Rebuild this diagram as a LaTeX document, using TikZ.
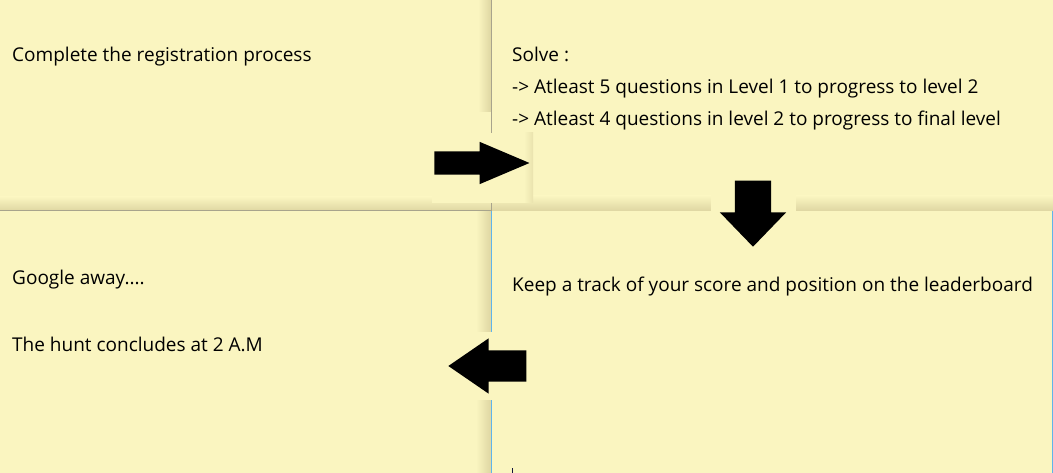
\documentclass[tikz,border=0pt]{standalone}
\usepackage{fontspec}
\setmainfont{Open Sans}
\usetikzlibrary{shapes.arrows,positioning}
\definecolor{notebg}{RGB}{250,245,192}
\definecolor{noteshade}{RGB}{222,214,162}
\definecolor{noteline}{RGB}{168,164,140}
\definecolor{noteblue}{RGB}{95,180,235}
\definecolor{caret}{RGB}{20,20,60}

\tikzset{
  notetext/.style={anchor=base west, inner sep=0pt, font=\fontsize{19}{22}\selectfont},
  blockarrow/.style={single arrow, fill=black, inner sep=0pt, single arrow head indent=0pt, anchor=tip},
}

\begin{document}
\begin{tikzpicture}[x=1pt,y=-1pt]
	\fill[notebg] (0,0) rectangle (1053,473);
	\useasboundingbox (0,0) rectangle (1053,473);
	% shadows at the note edges
	\shade[top color=notebg, bottom color=noteshade] (0,197) rectangle (491,211);
	\shade[top color=notebg, bottom color=noteshade] (491,196) rectangle (1053,211);
	\shade[left color=notebg, right color=noteshade] (478,0) rectangle (491,112);
	\shade[left color=notebg, right color=noteshade] (476,212) rectangle (491,332);
	\shade[left color=notebg, right color=noteshade] (476,400) rectangle (491,473);
	% patches under the arrows
	\fill[notebg] (432,133) rectangle (533,203);
	\shade[left color=notebg, right color=noteshade!60!notebg] (524,133) rectangle (533,203);
	\fill[notebg] (711,170) rectangle (796,216);
	\fill[notebg] (440,332) rectangle (530,400);
	% edge lines
	\draw[noteline, line width=1pt] (491,0) -- (491,133);
	\draw[noteline, line width=1pt] (491,203) -- (491,211);
	\draw[noteline, line width=1pt] (0,211) -- (491,211);
	\draw[noteblue, line width=1pt] (491,211) -- (491,332);
	\draw[noteblue, line width=1pt] (491,400) -- (491,473);
	\draw[noteblue, line width=1pt] (1052.5,211) -- (1052.5,473);
	\draw[caret, line width=1pt] (512,468) -- (512,473);
	% texts
	\node[notetext] (register) at (12,62) {Complete the registration process};
	\node[notetext] (solve) at (512,62) {Solve :};
	\node[notetext] (levelone) at (512,94) {-> Atleast 5 questions in Level 1 to progress to level 2};
	\node[notetext] (leveltwo) at (512,126) {-> Atleast 4 questions in level 2 to progress to final level};
	\node[notetext] (track) at (512,291) {Keep a track of your score and position on the leaderboard};
	\node[notetext] (google) at (12,285) {Google away....};
	\node[notetext] (hunt) at (12,351) {The hunt concludes at 2 A.M};
	% arrows
	\node[blockarrow, minimum height=95pt, inner ysep=11.5pt, single arrow head extend=9.5pt, single arrow tip angle=46] (toright) at (530,163) {};
	\node[blockarrow, shape border rotate=270, minimum height=66pt, inner xsep=18pt, single arrow head extend=15pt, single arrow tip angle=88] (todown) at (753,247) {};
	\node[blockarrow, shape border rotate=180, minimum height=78pt, inner ysep=15.5pt, single arrow head extend=12pt, single arrow tip angle=69] (toleft) at (448,366) {};
\end{tikzpicture}
\end{document}
